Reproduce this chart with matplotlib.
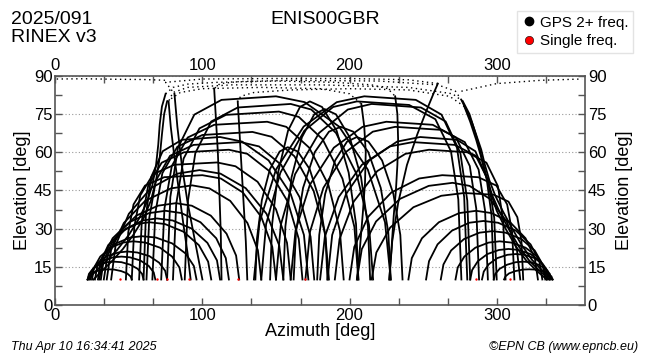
import matplotlib.pyplot as plt
from matplotlib.lines import Line2D
from matplotlib.ticker import MultipleLocator

plt.rcParams['font.family'] = ['Liberation Sans Narrow', 'Liberation Sans', 'DejaVu Sans']

station = "ENIS00GBR"
doy_label = "2025/091"
rinex_label = "RINEX v3"
created = "Thu Apr 10 16:34:41 2025"
credit = "\u00a9EPN CB (www.epncb.eu)"

# satellite tracks: (azimuth list, elevation list)
# low passes rising in the north-east
west_low = [
    ([22, 22.7, 24.8, 28.3, 32.5, 36, 40, 44.8, 48.8, 51.2, 52],
     [10, 11.2, 12.4, 13.3, 13.9, 14, 13.9, 13.3, 12.4, 11.2, 10]),
    ([22, 22.9, 25.6, 30.1, 35.5, 40, 45, 51, 56, 59, 60],
     [10, 12.2, 14.2, 15.8, 16.8, 17, 16.8, 15.8, 14.2, 12.2, 10]),
    ([23, 24.1, 27.4, 32.9, 39.5, 45, 50.8, 57.7, 63.4, 66.9, 68],
     [10, 12.8, 15.4, 17.5, 18.7, 19, 18.7, 17.5, 15.4, 12.8, 10]),
    ([24, 25.3, 29, 35.3, 42.8, 49, 55.8, 63.9, 70.6, 74.7, 76],
     [10, 13.4, 16.6, 19.2, 20.6, 21, 20.6, 19.2, 16.6, 13.4, 10]),
    ([25, 26.4, 30.6, 37.6, 46, 53, 61.3, 71.2, 79.4, 84.4, 86],
     [10, 14.7, 19, 22.5, 24.5, 25, 24.5, 22.5, 19, 14.7, 10]),
    ([27, 28.6, 33.4, 41.4, 51, 59, 68.3, 79.4, 88.6, 94.2, 96],
     [10, 15.3, 20.2, 24.2, 26.5, 27, 26.5, 24.2, 20.2, 15.3, 10]),
    ([29, 30.8, 36, 44.8, 55.3, 64, 74.5, 87.1, 97.6, 103.9, 106],
     [10, 17, 23.5, 28.8, 31.8, 32.5, 31.8, 28.8, 23.5, 17, 10]),
    ([31, 32.9, 38.6, 48.1, 59.5, 69, 79.8, 92.7, 103.4, 109.9, 112],
     [10, 17.5, 24.4, 30, 33.2, 34, 33.2, 30, 24.4, 17.5, 10]),
    ([30, 32.3, 39, 50.3, 63.8, 75, 85.8, 98.7, 109.4, 115.9, 118],
     [10, 18.4, 26.2, 32.5, 36.1, 37, 36.1, 32.5, 26.2, 18.4, 10]),
    ([33, 35.5, 42.8, 55.1, 69.8, 82, 92.8, 105.7, 116.4, 122.9, 125],
     [10, 19.4, 28, 35.1, 39, 40, 39, 35.1, 28, 19.4, 10]),
    ([35, 37.9, 46.6, 61.1, 78.5, 93, 104.8, 118.9, 130.6, 137.7, 140],
     [10, 21.5, 32.2, 40.9, 45.8, 47, 45.8, 40.9, 32.2, 21.5, 10]),
    ([38, 41, 50, 65, 83, 98, 112.3, 129.4, 143.6, 152.2, 155],
     [10, 23.4, 35.8, 45.9, 51.6, 53, 51.6, 45.9, 35.8, 23.4, 10]),
]

# higher passes rising in the east
west_high = [
    ([48, 49.6, 53.2, 61, 74, 100, 112.5, 127.5, 140, 147.5, 150],
     [10, 28.5, 39.5, 46.9, 50.2, 51, 49.7, 44.2, 34.6, 22.8, 10]),
    ([52, 53.7, 57.8, 66.5, 81, 110, 122.5, 137.5, 150, 157.5, 160],
     [10, 30.7, 43.1, 51.4, 55.1, 56, 54.5, 48.4, 37.6, 24.4, 10]),
    ([57, 58.8, 63.1, 72.3, 87.5, 118, 130.5, 145.5, 158, 165.5, 168],
     [10, 33, 46.7, 55.9, 60, 61, 59.4, 52.6, 40.6, 25.9, 10]),
    ([62, 63.9, 68.4, 78, 94, 126, 138.5, 153.5, 166, 173.5, 176],
     [10, 34.3, 48.9, 58.6, 62.9, 64, 62.3, 55.1, 42.4, 26.8, 10]),
    ([60, 61.6, 65.2, 73, 86, 112, 127, 145, 160, 169, 172],
     [10, 35.2, 50.3, 60.4, 64.9, 66, 64.2, 56.8, 43.6, 27.5, 10]),
    ([66, 68, 72.8, 83, 100, 134, 147, 162.6, 175.6, 183.4, 186],
     [10, 36.1, 51.8, 62.2, 66.8, 68, 66.1, 58.4, 44.8, 28.1, 10]),
    ([72, 74.2, 79.2, 90, 108, 144, 157, 172.6, 185.6, 193.4, 196],
     [10, 37.9, 54.6, 65.8, 70.8, 72, 70, 61.8, 47.2, 29.3, 10]),
    ([80, 82.2, 87.2, 98, 116, 152, 165.5, 181.7, 195.2, 203.3, 206],
     [10, 39.7, 57.5, 69.4, 74.7, 76, 73.9, 65.1, 49.6, 30.6, 10]),
    ([88, 90.2, 95.2, 106, 124, 160, 174, 190.8, 204.8, 213.2, 216],
     [10, 41, 59.7, 72.1, 77.6, 79, 76.8, 67.6, 51.4, 31.5, 10]),
    ([76, 78.2, 83.4, 94.5, 113, 150, 169.5, 192.9, 212.4, 224.1, 228],
     [10, 42.4, 61.8, 74.8, 80.6, 82, 79.7, 70.1, 53.2, 32.5, 10]),
]

# low passes rising in the north-west
east_low = [
    ([305, 305.9, 308.4, 312.7, 317.8, 322, 326, 330.8, 334.8, 337.2, 338],
     [10, 11.2, 12.4, 13.3, 13.9, 14, 13.9, 13.3, 12.4, 11.2, 10]),
    ([298, 299, 302, 307, 313, 318, 322.8, 328.5, 333.2, 336.1, 337],
     [10, 12.2, 14.2, 15.8, 16.8, 17, 16.8, 15.8, 14.2, 12.2, 10]),
    ([290, 291.2, 294.6, 300.4, 307.3, 313, 318.8, 325.7, 331.4, 334.9, 336],
     [10, 13.1, 16, 18.4, 19.7, 20, 19.7, 18.4, 16, 13.1, 10]),
    ([282, 283.3, 287.2, 293.7, 301.5, 308, 314.8, 322.9, 329.6, 333.7, 335],
     [10, 13.7, 17.2, 20, 21.6, 22, 21.6, 20, 17.2, 13.7, 10]),
    ([272, 273.5, 278, 285.5, 294.5, 302, 310, 319.6, 327.6, 332.4, 334],
     [10, 14.7, 19, 22.5, 24.5, 25, 24.5, 22.5, 19, 14.7, 10]),
    ([262, 263.8, 269, 277.8, 288.3, 297, 306, 316.8, 325.8, 331.2, 333],
     [10, 15.9, 21.4, 25.9, 28.4, 29, 28.4, 25.9, 21.4, 15.9, 10]),
    ([252, 254, 259.8, 269.6, 281.3, 291, 301, 313, 323, 329, 331],
     [10, 17.2, 23.8, 29.2, 32.3, 33, 32.3, 29.2, 23.8, 17.2, 10]),
    ([240, 242.3, 249.2, 260.7, 274.5, 286, 296.5, 309.1, 319.6, 325.9, 328],
     [10, 18.4, 26.2, 32.5, 36.1, 37, 36.1, 32.5, 26.2, 18.4, 10]),
    ([205, 208.3, 218, 234.3, 253.8, 270, 281.5, 295.3, 306.8, 313.7, 316],
     [10, 21.9, 32.8, 41.7, 46.8, 48, 46.8, 41.7, 32.8, 21.9, 10]),
]

# higher passes rising in the west
east_high = [
    ([215, 218.2, 227.6, 243.4, 262.3, 278, 298, 308, 314, 316.8, 318],
     [10, 20.6, 30.4, 38.4, 42.9, 44, 43.3, 40.6, 34.5, 25.3, 10]),
    ([200, 203.2, 212.6, 228.4, 247.3, 263, 287.5, 299.8, 307.1, 310.5, 312],
     [10, 22.8, 34.6, 44.2, 49.7, 51, 50.2, 46.9, 39.5, 28.5, 10]),
    ([190, 193.2, 202.8, 218.8, 238, 254, 280, 293, 300.8, 304.4, 306],
     [10, 25.9, 40.6, 52.6, 59.4, 61, 60, 55.9, 46.7, 33, 10]),
    ([180, 183.2, 192.6, 208.4, 227.3, 243, 271.5, 285.8, 294.3, 298.3, 300],
     [10, 26.8, 42.4, 55.1, 62.3, 64, 62.9, 58.6, 48.9, 34.3, 10]),
    ([185, 188.2, 197.6, 213.4, 232.3, 248, 273, 285.5, 293, 296.5, 298],
     [10, 27.5, 43.6, 56.8, 64.2, 66, 64.9, 60.4, 50.3, 35.2, 10]),
    ([170, 173.1, 182.2, 197.5, 215.8, 231, 262.5, 278.3, 287.7, 292.1, 294],
     [10, 28.7, 46, 60.1, 68.1, 70, 68.8, 64, 53.2, 37, 10]),
    ([160, 163.3, 173, 189.3, 208.8, 225, 256.5, 272.3, 281.7, 286.1, 288],
     [10, 29.3, 47.2, 61.8, 70, 72, 70.8, 65.8, 54.6, 37.9, 10]),
    ([150, 153.3, 163, 179.3, 198.8, 215, 248.5, 265.3, 275.3, 280, 282],
     [10, 31.5, 51.4, 67.6, 76.8, 79, 77.6, 72.1, 59.7, 41, 10]),
    ([140, 143.3, 153, 169.3, 188.8, 205, 240.5, 258.3, 268.9, 273.9, 276],
     [10, 31.8, 52, 68.5, 77.8, 80, 78.6, 73, 60.4, 41.5, 10]),
    ([135, 138.8, 150, 168.8, 191.3, 210, 245, 262.5, 273, 277.9, 280],
     [10, 32.5, 53.2, 70.1, 79.7, 82, 80.6, 74.8, 61.8, 42.4, 10]),
]

# narrow southern arches
central = [
    ([136, 137.1, 140.4, 145.9, 152.5, 158, 164.8, 172.9, 179.6, 183.7, 185],
     [10, 26.2, 41.2, 53.4, 60.3, 62, 60.3, 53.4, 41.2, 26.2, 10]),
    ([146, 147.4, 151.4, 158.2, 166.3, 173, 181.3, 191.2, 199.4, 204.4, 206],
     [10, 31.8, 52, 68.5, 77.8, 80, 77.8, 68.5, 52, 31.8, 10]),
    ([155, 156.4, 160.6, 167.6, 176, 183, 190.8, 200.1, 207.8, 212.5, 214],
     [10, 30.9, 50.2, 65.9, 74.9, 77, 74.9, 65.9, 50.2, 30.9, 10]),
    ([162, 163.6, 168.4, 176.4, 186, 194, 202.5, 212.7, 221.2, 226.3, 228],
     [10, 28.7, 46, 60.1, 68.1, 70, 68.1, 60.1, 46, 28.7, 10]),
    ([178, 179.4, 183.4, 190.2, 198.3, 205, 212.8, 222.1, 229.8, 234.5, 236],
     [10, 27.5, 43.6, 56.8, 64.2, 66, 64.2, 56.8, 43.6, 27.5, 10]),
]

# near-zenith passes: solid legs
zenith_legs = [
    ([22, 28, 35, 42, 50, 57, 62, 66, 68.5, 70, 71, 72.5, 75],
     [10, 13.5, 17.5, 21.6, 27.5, 34, 40, 47, 55, 63, 71, 78, 83]),
    ([231, 232.5, 233, 232.5, 231.5, 230, 228.5, 227], [82, 75, 65, 55, 45, 35, 22, 10]),
    ([26, 32, 39, 46, 53, 60, 65, 68.5, 71, 72.5, 74, 76],
     [10, 13.5, 17.5, 22, 27.5, 34, 41, 49, 58, 67, 75, 80]),
    ([208, 210, 211, 210.5, 209, 207, 205], [79, 70, 60, 48, 36, 22, 10]),
    ([338, 331, 324, 317, 310, 304, 299, 295, 292, 289.5, 286, 283, 279, 276],
     [10, 13.5, 17.7, 23.5, 30.6, 37, 43, 49, 55, 61, 67, 72, 77, 80.6]),
    ([108, 109, 110.5, 111.5, 112.5, 113], [85, 75, 60, 45, 28, 10]),
    ([336, 329, 322, 315, 308, 302, 297, 293.5, 290.5, 288, 285, 281.5, 277],
     [10, 13.5, 17.5, 23, 30, 36.5, 43, 49.5, 56, 62.5, 68.5, 75, 80]),
    ([77, 78.5, 81, 84, 87, 90, 92], [80, 70, 58, 45, 32, 20, 10]),
    ([334, 327, 320, 313, 306, 300, 296, 292.5, 289.5, 286, 282, 278],
     [10, 13.5, 17.5, 23, 30, 37, 44, 51, 58, 65, 72, 78]),
    ([124, 125, 126.5, 128, 129.5, 130.5], [80, 70, 55, 40, 25, 10]),
    ([227, 229, 233, 239, 246, 252, 257, 260], [10, 25, 40, 55, 67, 76, 83, 87]),
    ([81, 83, 86, 90, 95, 100], [83, 70, 55, 40, 25, 10]),
]

# near-zenith passes: sparse epochs around the zenith
zenith_tops = [
    ([75, 80, 90, 110, 150, 190, 215, 226, 231], [83, 85.5, 86.8, 87.5, 88, 87.5, 86.5, 85, 82]),
    ([76, 85, 100, 140, 180, 200, 208], [80, 83.5, 85, 85.5, 85, 83, 79]),
    ([276, 272, 260, 220, 160, 125, 112, 108], [80.6, 84, 86.5, 88, 88.3, 87.8, 87, 85]),
    ([277, 270, 240, 180, 120, 90, 80, 77], [80, 83, 85.5, 86.5, 86.5, 85.5, 83.5, 80]),
    ([278, 268, 240, 200, 160, 135, 126, 124], [78, 82, 84.5, 85, 84.5, 83.5, 82, 80]),
    ([260, 240, 200, 150, 100, 75, 81], [87, 88.5, 89, 89, 88.8, 87.5, 83]),
    ([1, 20, 40, 60, 75], [88.8, 88.9, 88.7, 88.6, 88.3]),
    ([276, 300, 330, 358], [84, 87, 88.3, 88.8]),
]

# epochs with single-frequency data only
single_az = [44, 69, 76, 91, 124, 170, 286, 309]
single_el = [10, 10, 10, 10, 10, 10, 10, 10]

fig = plt.figure(figsize=(6.5, 3.6), dpi=100)
ax = fig.add_axes([0.085, 0.153, 0.815, 0.636])

for az, el in west_low + west_high + east_low + east_high + central + zenith_legs:
    ax.plot(az, el, color='black', lw=1.3, solid_joinstyle='round', zorder=3)
for az, el in zenith_tops:
    ax.plot(az, el, color='black', lw=1.0, linestyle=(0, (1, 2.5)), zorder=3)
ax.scatter(single_az, single_el, s=3, color='red', zorder=4, linewidths=0)

ax.set_xlim(0, 360)
ax.set_ylim(0, 90)
ax.xaxis.set_major_locator(MultipleLocator(100))
ax.xaxis.set_minor_locator(MultipleLocator(100 / 3))
ax.yaxis.set_major_locator(MultipleLocator(15))
ax.yaxis.set_minor_locator(MultipleLocator(7.5))
ax.tick_params(which='both', direction='in', top=True, right=True, labeltop=True,
               labelright=True, length=5, width=1, color='#555555', labelsize=12, pad=2)
ax.grid(axis='y', which='major', linestyle=(0, (1, 2)), color='#999999', lw=0.8, zorder=1)
for s in ax.spines.values():
    s.set_color('#555555')
    s.set_linewidth(1.2)

ax.set_xlabel("Azimuth [deg]", fontsize=13, labelpad=0)
ax.set_ylabel("Elevation [deg]", fontsize=13, labelpad=2)
ax.text(1.075, 0.5, "Elevation [deg]", transform=ax.transAxes, rotation=90,
        fontsize=13, ha='center', va='center')

fig.text(0.5, 0.945, station, ha='center', va='center', fontsize=14)
fig.text(0.017, 0.945, doy_label, ha='left', va='center', fontsize=14)
fig.text(0.017, 0.897, rinex_label, ha='left', va='center', fontsize=14)
fig.text(0.017, 0.035, created, ha='left', va='center', fontsize=9, style='italic')
fig.text(0.982, 0.035, credit, ha='right', va='center', fontsize=9, style='italic')

handles = [
    Line2D([], [], marker='o', color='black', linestyle='none', markersize=6),
    Line2D([], [], marker='o', color='red', markeredgecolor='black', markeredgewidth=0.4,
           linestyle='none', markersize=6),
]
fig.legend(handles, ["GPS 2+ freq.", "Single freq."], loc='upper right',
           bbox_to_anchor=(0.985, 0.99), fontsize=11, frameon=True, fancybox=False,
           edgecolor='#dddddd', handletextpad=0.2, borderpad=0.3, labelspacing=0.3,
           handlelength=1.0)

fig.savefig("out.png", dpi=100)
